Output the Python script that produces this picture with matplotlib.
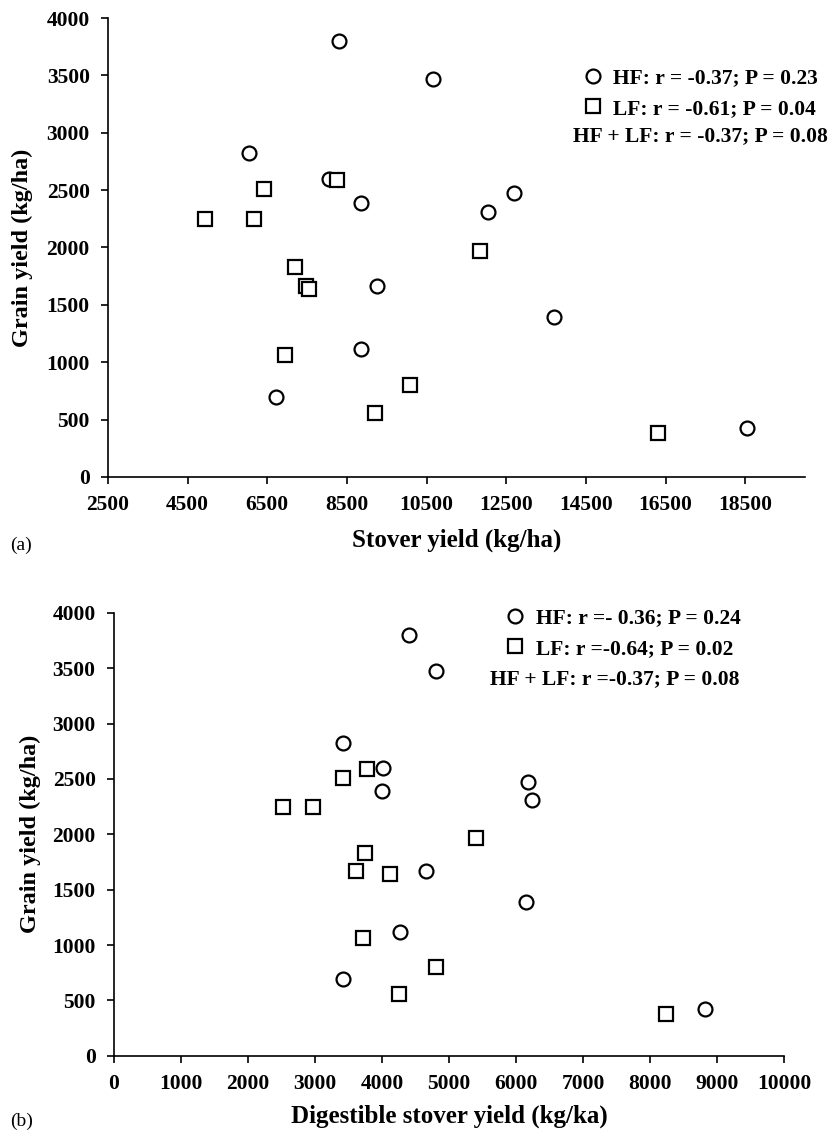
import matplotlib
matplotlib.use("Agg")
import matplotlib.pyplot as plt
from matplotlib.ticker import MultipleLocator

plt.rcParams["font.family"] = ["Liberation Serif", "DejaVu Serif"]
plt.rcParams["font.weight"] = "bold"

# grain yield (kg/ha), same plots in both panels
hf_grain = [3800, 3470, 2820, 2600, 2390, 2475, 2310, 1665, 1390, 1115, 695, 425]
lf_grain = [2590, 2510, 2250, 2250, 1830, 1665, 1640, 1965, 1065, 800, 560, 380]

# (a) stover yield (kg/ha)
hf_stover = [8300, 10650, 6050, 8060, 8850, 12700, 12030, 9260, 13700, 8860, 6710, 18550]
lf_stover = [8250, 6420, 4930, 6170, 7200, 7460, 7560, 11830, 6940, 10080, 9200, 16300]

# (b) digestible stover yield
hf_dig = [4410, 4800, 3420, 4020, 4000, 6180, 6240, 4650, 6150, 4270, 3420, 8820]
lf_dig = [3770, 3420, 2520, 2970, 3740, 3610, 4120, 5400, 3710, 4800, 4260, 8240]

xticks_a = list(range(2500, 18501, 2000))
xticks_b = list(range(0, 10001, 1000))

leg_a = ["HF: r = -0.37; P = 0.23", "LF: r = -0.61; P = 0.04", "HF + LF: r = -0.37; P = 0.08"]
leg_b = ["HF: r =- 0.36; P = 0.24", "LF: r =-0.64; P = 0.02", "HF + LF: r =-0.37; P = 0.08"]

fig = plt.figure(figsize=(8.3, 11.3), dpi=100)
ax1 = fig.add_axes([0.130, 0.578, 0.840, 0.406])
ax2 = fig.add_axes([0.137, 0.0657, 0.808, 0.392])

def style(ax, xs_hf, xs_lf, labels, xlim, xticks, xlab, xpad, leg_anchor, combo_xy):
    ax.plot(xs_hf, hf_grain, "o", ms=10, mfc="white", mec="black", mew=1.6, label=labels[0])
    ax.plot(xs_lf, lf_grain, "s", ms=10.5, mfc="white", mec="black", mew=1.6, label=labels[1])
    ax.set_xlim(*xlim)
    ax.set_ylim(0, 4000)
    ax.set_xticks(xticks)
    ax.yaxis.set_major_locator(MultipleLocator(500))
    ax.spines["top"].set_visible(False)
    ax.spines["right"].set_visible(False)
    ax.spines["left"].set_linewidth(1.2)
    ax.spines["bottom"].set_linewidth(1.2)
    ax.tick_params(direction="out", length=5, width=1.2, labelsize=15.5, pad=8)
    ax.set_xlabel(xlab, fontsize=18, fontweight="bold", labelpad=xpad)
    ax.set_ylabel("Grain yield (kg/ha)", fontsize=17.5, fontweight="bold")
    ax.yaxis.set_label_coords(-0.108, 0.5)
    ax.legend(loc="upper left", bbox_to_anchor=leg_anchor, bbox_transform=fig.transFigure,
              frameon=False, fontsize=15.5, handlelength=1.0, handletextpad=0.45,
              labelspacing=0.5, borderpad=0, borderaxespad=0)
    fig.text(combo_xy[0], combo_xy[1], labels[2], fontsize=15.5, fontweight="bold",
             ha="right", va="center")

style(ax1, hf_stover, lf_stover, leg_a, (2500, 20000), xticks_a, "Stover yield (kg/ha)", 10,
      (0.701, 1 - 68 / 1130), (828 / 830, 1 - 136 / 1130))
style(ax2, hf_dig, lf_dig, leg_b, (0, 10000), xticks_b, "Digestible stover yield (kg/ka)", 8,
      (0.608, 1 - 608 / 1130), (739 / 830, 1 - 679 / 1130))

fig.text(0.012, 1 - 545 / 1130, "(a)", fontsize=14, fontweight="normal", va="center")
fig.text(0.012, 1 - 1121 / 1130, "(b)", fontsize=14, fontweight="normal", va="center")

fig.savefig("out.png", dpi=100)
